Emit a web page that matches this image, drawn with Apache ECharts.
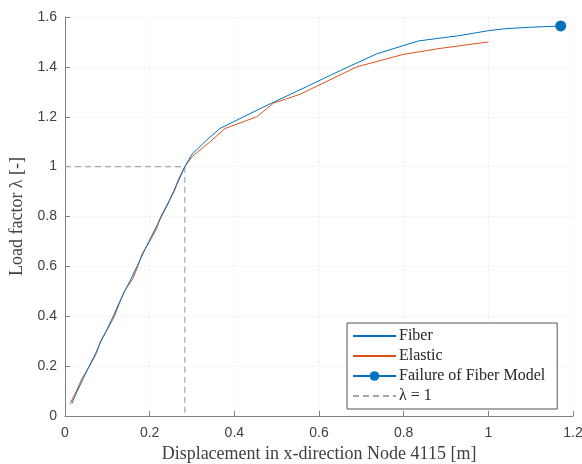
<!DOCTYPE html>
<html>
<head>
<meta charset="utf-8">
<script src="https://cdn.jsdelivr.net/npm/echarts@6/dist/echarts.min.js"></script>
<style>html,body{margin:0;padding:0;background:#fff}#c{width:582px;height:464px}</style>
</head>
<body>
<div id="c"></div>
<script>
// Data
const fiberX = [0.016,0.029,0.043,0.057,0.072,0.085,0.100,0.114,0.127,0.141,0.156,0.170,0.184,0.198,0.213,0.228,0.243,0.256,0.270,0.283,0.300,0.335,0.366,0.470,0.570,0.650,0.736,0.835,0.930,1.000,1.040,1.100,1.171];
const fiberY = [0.05,0.10,0.15,0.20,0.25,0.30,0.35,0.40,0.45,0.50,0.55,0.60,0.65,0.70,0.75,0.80,0.85,0.90,0.95,1.00,1.05,1.107,1.153,1.24,1.32,1.385,1.452,1.504,1.525,1.545,1.553,1.559,1.564];
const elasticX = [0.012,0.027,0.040,0.058,0.074,0.084,0.101,0.117,0.128,0.140,0.160,0.172,0.182,0.200,0.216,0.226,0.242,0.258,0.268,0.283,0.300,0.343,0.378,0.453,0.492,0.555,0.689,0.799,0.886,1.000];
const elasticY = [0.05,0.10,0.15,0.20,0.25,0.30,0.35,0.40,0.45,0.50,0.55,0.60,0.65,0.70,0.75,0.80,0.85,0.90,0.95,1.00,1.04,1.10,1.153,1.200,1.254,1.29,1.40,1.45,1.474,1.50];
const failurePoint = [1.171, 1.564];
const lambdaOneX = [0, 0.283, 0.283];
const lambdaOneY = [1, 1, 0];
const xTicks = {min: 0, max: 1.2, interval: 0.2};
const yTicks = {min: 0, max: 1.6, interval: 0.2};
const names = ['Fiber', 'Elastic', 'Failure of Fiber Model', 'λ = 1'];

const zip = (a, b) => a.map((v, i) => [v, b[i]]);
const chart = echarts.init(document.getElementById('c'));
const serif = '"Liberation Serif", "DejaVu Serif", serif';
const sans = '"Liberation Sans", Arial, sans-serif';
const axisCommon = {
  axisLine: {show: true, lineStyle: {color: '#808080', width: 1}},
  axisTick: {show: true, inside: true, length: 5, lineStyle: {color: '#808080'}},
  splitLine: {show: true, lineStyle: {color: '#e3e3e3', type: [1, 3], width: 1}},
  axisLabel: {color: '#404040', fontSize: 14, fontFamily: sans},
  nameTextStyle: {color: '#404040', fontSize: 18, fontFamily: serif}
};
chart.setOption({
  animation: false,
  grid: {left: 65, right: 9, top: 17, bottom: 48, containLabel: false, outerBoundsMode: 'none'},
  xAxis: Object.assign({}, axisCommon, {
    type: 'value', min: xTicks.min, max: xTicks.max, interval: xTicks.interval,
    name: 'Displacement in x-direction Node 4115 [m]', nameLocation: 'middle', nameGap: 26,
    axisLabel: Object.assign({}, axisCommon.axisLabel, {margin: 10})
  }),
  yAxis: Object.assign({}, axisCommon, {
    type: 'value', min: yTicks.min, max: yTicks.max, interval: yTicks.interval,
    name: 'Load factor λ [-]', nameLocation: 'middle', nameGap: 34,
    axisLabel: Object.assign({}, axisCommon.axisLabel, {margin: 8})
  }),
  legend: {
    orient: 'vertical', left: 347, top: 323,
    itemWidth: 43, itemHeight: 12, itemGap: 4,
    padding: [5, 12, 5, 5],
    borderColor: '#555', borderWidth: 1, backgroundColor: '#fff',
    textStyle: {color: '#262626', fontSize: 16, lineHeight: 15, fontFamily: serif, padding: [0, 0, 0, -2]},
    data: [
      {name: names[0], itemStyle: {opacity: 0}},
      {name: names[1], itemStyle: {opacity: 0}},
      {name: names[2]},
      {name: names[3], itemStyle: {opacity: 0}}
    ]
  },
  series: [
    {name: names[0], type: 'line', data: zip(fiberX, fiberY), showSymbol: false, symbol: 'none',
     lineStyle: {color: '#0072BD', width: 1}, itemStyle: {color: '#0072BD'}, z: 3},
    {name: names[1], type: 'line', data: zip(elasticX, elasticY), showSymbol: false, symbol: 'none',
     lineStyle: {color: '#D95319', width: 1}, itemStyle: {color: '#D95319'}, z: 2},
    {name: names[2], type: 'line', data: [failurePoint], symbol: 'circle', symbolSize: 11,
     lineStyle: {color: '#0072BD', width: 1}, itemStyle: {color: '#0072BD'}, z: 4},
    {name: names[3], type: 'line', data: zip(lambdaOneX, lambdaOneY), symbol: 'none',
     lineStyle: {color: '#a6a6a6', width: 1.2, type: [6, 4]}, itemStyle: {color: '#a6a6a6'}, z: 1}
  ]
});
</script>
</body>
</html>
